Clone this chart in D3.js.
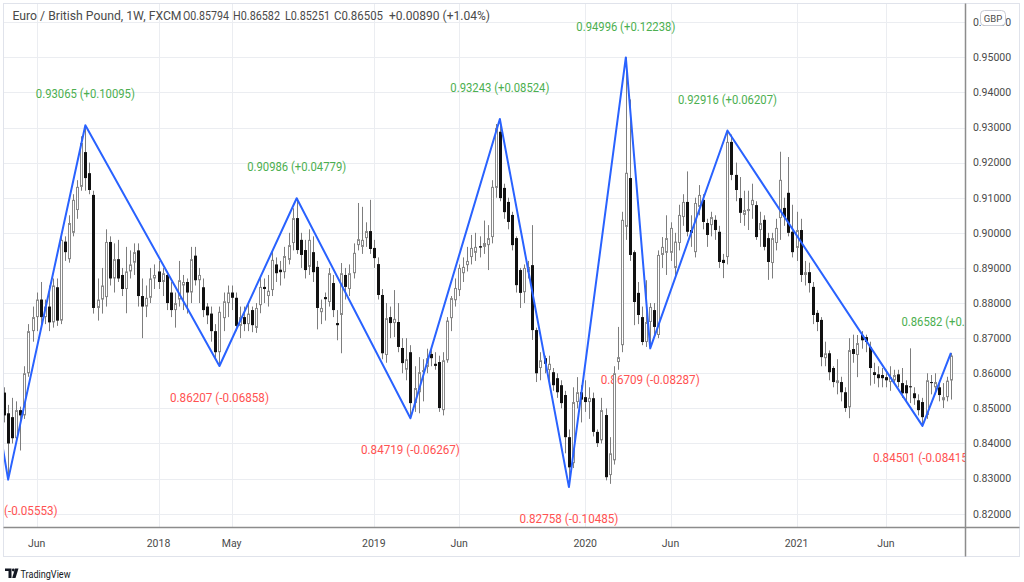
<!DOCTYPE html>
<html><head><meta charset="utf-8">
<script src="https://cdn.jsdelivr.net/npm/d3@7"></script>
<style>
html,body{margin:0;padding:0;background:#fff;}
svg{display:block;font-family:Roboto,"Noto Sans",sans-serif;}
</style></head><body>
<svg id="c" width="1024" height="582"></svg>
<script>
// ---- DATA (weekly EUR/GBP, FXCM) ----
const firstWeek = "2017-04-10";
const open = [
0.8545,0.8486,0.8475,0.8415,0.8495,0.8480,0.8600,0.8720,0.8760,0.8810,
0.8760,0.8790,0.8745,0.8845,0.8750,0.8975,0.8925,0.9000,0.9065,0.9131,
0.9230,0.9170,0.9108,0.8786,0.8810,0.8817,0.8974,0.8870,0.8925,0.8880,
0.8840,0.8890,0.8915,0.8950,0.8820,0.8790,0.8815,0.8870,0.8890,0.8860,
0.8880,0.8830,0.8780,0.8810,0.8850,0.8860,0.8830,0.8935,0.8865,0.8845,
0.8790,0.8770,0.8720,0.8660,0.8757,0.8800,0.8830,0.8815,0.8735,0.8760,
0.8740,0.8780,0.8729,0.8794,0.8846,0.8820,0.8837,0.8910,0.8895,0.8888,
0.8923,0.8971,0.9042,0.8980,0.8951,0.8903,0.8945,0.8903,0.8774,0.8817,
0.8803,0.8857,0.8743,0.8766,0.8880,0.8840,0.8885,0.8965,0.8960,0.8985,
0.9005,0.8957,0.8911,0.8823,0.8652,0.8760,0.8743,0.8746,0.8672,0.8610,
0.8660,0.8515,0.8546,0.8603,0.8618,0.8655,0.8627,0.8632,0.8495,0.8637,
0.8757,0.8808,0.8837,0.8885,0.8908,0.8931,0.8943,0.8962,0.8960,0.8965,
0.8988,0.9128,0.9288,0.9128,0.9088,0.9051,0.8985,0.8894,0.8831,0.8888,
0.8908,0.8723,0.8615,0.8643,0.8609,0.8603,0.8586,0.8566,0.8538,0.8418,
0.8344,0.8518,0.8546,0.8532,0.8518,0.8529,0.8433,0.8409,0.8481,0.8310,
0.8352,0.8632,0.8680,0.9017,0.9156,0.8945,0.8829,0.8760,0.8689,0.8746,
0.8780,0.8709,0.8937,0.8943,0.8943,0.8900,0.8971,0.9045,0.9088,0.9008,
0.8945,0.9074,0.9094,0.9028,0.9022,0.9037,0.9003,0.8923,0.8931,0.9259,
0.9165,0.9099,0.9051,0.9062,0.9079,0.9079,0.9008,0.9037,0.8985,0.8914,
0.8971,0.9042,0.9071,0.9114,0.9003,0.8957,0.9008,0.8880,0.8888,0.8846,
0.8772,0.8752,0.8643,0.8657,0.8615,0.8572,0.8575,0.8546,0.8503,0.8669,
0.8652,0.8709,0.8703,0.8675,0.8603,0.8597,0.8595,0.8589,0.8575,0.8580,
0.8597,0.8572,0.8566,0.8563,0.8543,0.8523,0.8518,0.8481,0.8575,0.8560,
0.8560,0.8523,0.8532,0.85794];
const high = [
0.8560,0.8510,0.8530,0.8520,0.8505,0.8620,0.8740,0.8790,0.8830,0.8860,
0.8810,0.8850,0.8870,0.8870,0.8990,0.8990,0.9050,0.9110,0.9150,0.9275,
0.93065,0.9200,0.9120,0.8870,0.8900,0.9010,0.8990,0.8970,0.8980,0.8900,
0.8960,0.8950,0.8970,0.8970,0.8870,0.8850,0.8900,0.8910,0.8920,0.8900,
0.8890,0.8860,0.8830,0.8920,0.8880,0.8870,0.8960,0.8960,0.8900,0.8870,
0.8800,0.8790,0.8740,0.8790,0.8830,0.8850,0.8850,0.8830,0.8790,0.8790,
0.8800,0.8790,0.8800,0.8874,0.8870,0.8880,0.8950,0.8930,0.8920,0.8960,
0.9000,0.9070,0.90986,0.9000,0.8980,0.9010,0.8990,0.8920,0.8810,0.8830,
0.8900,0.8880,0.8780,0.8914,0.8900,0.8910,0.8970,0.9085,0.9074,0.9030,
0.9094,0.8980,0.8930,0.8840,0.8800,0.8790,0.8837,0.8800,0.8700,0.8700,
0.8680,0.8620,0.8646,0.8640,0.8670,0.8670,0.8660,0.8650,0.8660,0.8760,
0.8820,0.8870,0.8910,0.8930,0.8960,0.8994,0.9000,0.8990,0.9035,0.9022,
0.9150,0.9310,0.93243,0.9140,0.9100,0.9060,0.8990,0.8900,0.8910,0.8920,
0.9022,0.8730,0.8660,0.8650,0.8650,0.8615,0.8600,0.8580,0.8550,0.8440,
0.8560,0.8589,0.8566,0.8580,0.8560,0.8545,0.8440,0.8530,0.8500,0.8418,
0.8620,0.8732,0.9060,0.94996,0.9380,0.8950,0.8860,0.8790,0.8865,0.8800,
0.8800,0.8950,0.8988,0.9050,0.9030,0.9000,0.9080,0.9110,0.9175,0.9050,
0.9100,0.9136,0.9110,0.9040,0.9060,0.9050,0.9020,0.8940,0.92916,0.9280,
0.9200,0.9159,0.9120,0.9120,0.9140,0.9090,0.9060,0.9050,0.9000,0.9000,
0.9040,0.9231,0.9100,0.9216,0.9080,0.9060,0.9040,0.8920,0.8915,0.8860,
0.8780,0.8760,0.8690,0.8665,0.8620,0.8640,0.8590,0.8560,0.8700,0.8710,
0.8709,0.8720,0.8710,0.8690,0.8630,0.8620,0.8615,0.8610,0.8620,0.8610,
0.8610,0.8615,0.8580,0.8671,0.8560,0.8540,0.8530,0.8600,0.8595,0.8600,
0.8580,0.8572,0.8590,0.86582];
const low = [
0.8460,0.8297,0.8400,0.8400,0.8380,0.8470,0.8590,0.8690,0.8720,0.8740,
0.8740,0.8720,0.8730,0.8735,0.8740,0.8920,0.8915,0.8990,0.9040,0.9120,
0.9120,0.9110,0.8770,0.8750,0.8770,0.8790,0.8850,0.8830,0.8860,0.8820,
0.8771,0.8870,0.8880,0.8790,0.8700,0.8760,0.8800,0.8840,0.8840,0.8820,
0.8780,0.8760,0.8730,0.8790,0.8780,0.8770,0.8800,0.8850,0.8800,0.8760,
0.8740,0.8690,0.8640,0.86207,0.8720,0.8760,0.8780,0.8720,0.8700,0.8720,
0.8720,0.8717,0.8715,0.8771,0.8800,0.8790,0.8820,0.8860,0.8850,0.8870,
0.8910,0.8950,0.8940,0.8900,0.8870,0.8880,0.8860,0.8725,0.8740,0.8750,
0.8790,0.8760,0.8694,0.8657,0.8810,0.8820,0.8870,0.8950,0.8940,0.8960,
0.8940,0.8900,0.8810,0.8640,0.8630,0.8700,0.8703,0.8660,0.8600,0.8580,
0.84719,0.8490,0.8486,0.8520,0.8600,0.8620,0.8610,0.8490,0.8480,0.8630,
0.8720,0.8790,0.8820,0.8860,0.8890,0.8910,0.8920,0.8930,0.8940,0.8894,
0.8970,0.9100,0.9090,0.9040,0.9010,0.8950,0.8830,0.8786,0.8800,0.8870,
0.8695,0.8575,0.8580,0.8600,0.8570,0.8550,0.8530,0.8500,0.8372,0.82758,
0.8330,0.8500,0.8460,0.8490,0.8470,0.8420,0.8390,0.8400,0.8295,0.8285,
0.8340,0.8610,0.8660,0.8980,0.8920,0.8737,0.8740,0.8680,0.8675,0.86709,
0.8710,0.8700,0.8900,0.8880,0.8920,0.8880,0.8950,0.9020,0.8990,0.8960,
0.8930,0.9050,0.9010,0.8960,0.8990,0.8980,0.8900,0.8871,0.8910,0.9150,
0.9090,0.9028,0.9020,0.9008,0.9040,0.8980,0.8960,0.8950,0.8866,0.8870,
0.8950,0.8980,0.9020,0.8990,0.8930,0.8920,0.8860,0.8850,0.8830,0.8740,
0.8720,0.8620,0.8620,0.8580,0.8560,0.8540,0.8520,0.8490,0.8472,0.8630,
0.8589,0.8670,0.8660,0.8565,0.8570,0.8560,0.8560,0.8560,0.8550,0.8570,
0.8560,0.8530,0.8520,0.8515,0.8510,0.8480,0.84501,0.8470,0.8540,0.8540,
0.8520,0.8501,0.8520,0.85251];
const close = [
0.8480,0.8400,0.8415,0.8495,0.8480,0.8600,0.8720,0.8760,0.8810,0.8760,
0.8790,0.8745,0.8850,0.8750,0.8980,0.8945,0.9028,0.9094,0.9131,0.9256,
0.9156,0.9122,0.8786,0.8810,0.8850,0.8974,0.8870,0.8925,0.8870,0.8840,
0.8890,0.8910,0.8945,0.8820,0.8790,0.8815,0.8870,0.8880,0.8860,0.8885,
0.8800,0.8780,0.8800,0.8865,0.8860,0.8830,0.8925,0.8865,0.8880,0.8780,
0.8765,0.8720,0.8660,0.8775,0.8805,0.8830,0.8815,0.8735,0.8760,0.8740,
0.8770,0.8737,0.8786,0.8846,0.8840,0.8835,0.8923,0.8885,0.8888,0.8934,
0.8965,0.9042,0.8951,0.8937,0.8894,0.8980,0.8888,0.8786,0.8786,0.8811,
0.8885,0.8780,0.8737,0.8885,0.8846,0.8885,0.8943,0.8982,0.8980,0.9005,
0.8954,0.8928,0.8823,0.8657,0.8757,0.8743,0.8755,0.8675,0.8629,0.8640,
0.8515,0.8558,0.8603,0.8609,0.8643,0.8643,0.8621,0.8501,0.8637,0.8750,
0.8814,0.8843,0.8900,0.8903,0.8920,0.8957,0.8960,0.8958,0.8971,0.8985,
0.9131,0.9299,0.9099,0.9059,0.9031,0.8965,0.8851,0.8829,0.8900,0.8903,
0.8723,0.8600,0.8637,0.8627,0.8627,0.8566,0.8546,0.8515,0.8418,0.8332,
0.8518,0.8546,0.8525,0.8518,0.8530,0.8433,0.8401,0.8495,0.8304,0.8372,
0.8600,0.8646,0.9037,0.9171,0.8937,0.8803,0.8766,0.8689,0.8746,0.8789,
0.8732,0.8937,0.8960,0.8985,0.9014,0.8975,0.9051,0.9088,0.9003,0.9000,
0.9085,0.9108,0.9031,0.8994,0.9045,0.9008,0.8917,0.8914,0.9259,0.9165,
0.9122,0.9057,0.9065,0.9068,0.9094,0.8988,0.9028,0.8960,0.8917,0.8985,
0.9014,0.9151,0.9045,0.9000,0.8945,0.9008,0.8880,0.8888,0.8857,0.8766,
0.8746,0.8646,0.8657,0.8603,0.8575,0.8580,0.8546,0.8501,0.8666,0.8655,
0.8686,0.8694,0.8689,0.8615,0.8595,0.8586,0.8586,0.8580,0.8589,0.8595,
0.8575,0.8543,0.8543,0.8560,0.8529,0.8495,0.8475,0.8580,0.8572,0.8575,
0.8538,0.8532,0.8579,0.86505];

// ZigZag pivots
const pivotDates = ["2017-02-20","2017-04-17","2017-08-28","2018-04-16","2018-08-27","2019-03-11","2019-08-12","2019-12-09","2020-03-16","2020-04-27","2020-09-07","2021-08-09","2021-09-27"];
const pivotValues = [0.88523,0.82970,0.93065,0.86207,0.90986,0.84719,0.93243,0.82758,0.94996,0.86709,0.92916,0.84501,0.86582];

// axes
const priceTicks = [0.82,0.83,0.84,0.85,0.86,0.87,0.88,0.89,0.90,0.91,0.92,0.93,0.94,0.95,0.96];
const timeTickDates = ["2017-06-05","2018-01-01","2018-05-07","2019-01-07","2019-06-03","2020-01-06","2020-06-01","2021-01-04","2021-06-07"];
const timeTickLabels = ["Jun","2018","May","2019","Jun","2020","Jun","2021","Jun"];

const titleParts = ["Euro / British Pound, 1W, FXCM","O0.85794","H0.86582","L0.85251","C0.86505","+0.00890 (+1.04%)"];

// ---- DRAW ----
const svg = d3.select("#c");
const P = {l:4, t:4, r:965, b:527};
const parse = s => new Date(s + "T00:00:00Z");
const start = parse(firstWeek);
const dates = open.map((_, i) => d3.utcDay.offset(start, 7 * i));

const x = d3.scaleUtc().domain([parse("2018-01-01"), parse("2021-01-04")]).range([158.5, 796.5]);
const y = d3.scaleLinear().domain([0.82, 0.95]).range([513.7, 57.3]);

svg.append("rect").attr("x",3.5).attr("y",3.5).attr("width",1016).attr("height",553)
  .attr("fill","#fff").attr("stroke","#e0e3eb");

svg.append("defs").append("clipPath").attr("id","plotclip")
  .append("rect").attr("x",P.l).attr("y",P.t).attr("width",P.r-P.l).attr("height",P.b-P.t);

// grid
const grid = svg.append("g").attr("stroke","#ebedf1").attr("stroke-width",1);
priceTicks.forEach(p => {
  const yy = Math.round(y(p)) + 0.5;
  if (yy > P.t && yy < P.b) grid.append("line").attr("x1",P.l).attr("x2",P.r).attr("y1",yy).attr("y2",yy);
});
timeTickDates.forEach(d => {
  const xx = Math.round(x(parse(d))) + 0.5;
  grid.append("line").attr("x1",xx).attr("x2",xx).attr("y1",P.t).attr("y2",P.b);
});

const plot = svg.append("g").attr("clip-path","url(#plotclip)");

// pivot labels (under candles)
const piv = pivotDates.map((d,i) => ({date: parse(d), v: pivotValues[i]}));
const labG = plot.append("g").attr("font-size","12px").attr("text-anchor","middle");
piv.forEach((p,i) => {
  if (i === 0) return;
  const prev = piv[i-1].v;
  const diff = Math.round((p.v - prev) * 1e5) / 1e5;
  const up = diff > 0;
  const txt = p.v.toFixed(5) + " (" + (up ? "+" : "-") + Math.abs(diff).toFixed(5) + ")";
  const cy = y(p.v) + (up ? -31 : 31.5);
  labG.append("text").attr("x", x(p.date)).attr("y", cy + 4.2)
    .attr("fill", up ? "#4caf50" : "#ff5252")
    .attr("textLength", 99).attr("lengthAdjust","spacingAndGlyphs")
    .text(txt);
});

// candles
const cg = plot.append("g");
dates.forEach((d,i) => {
  const px = Math.round(x(d));
  const o = open[i], h = high[i], l = low[i], c = close[i];
  cg.append("line").attr("x1",px+0.5).attr("x2",px+0.5)
    .attr("y1",y(h)).attr("y2",y(l)).attr("stroke","#7d7d7d").attr("stroke-width",1);
  if (c >= o) {
    const top = y(c), bot = y(o);
    cg.append("rect").attr("x",px-0.5).attr("y",top+0.5).attr("width",2)
      .attr("height",Math.max(0.5, bot-top-1)).attr("fill","#fff").attr("stroke","#8a8a8a").attr("stroke-width",1);
  } else {
    const top = y(o), bot = y(c);
    cg.append("rect").attr("x",px-1).attr("y",top).attr("width",3)
      .attr("height",Math.max(1, bot-top)).attr("fill","#111");
  }
});

// zigzag
plot.append("path").datum(piv)
  .attr("d", d3.line().x(p => x(p.date)).y(p => y(p.v)))
  .attr("fill","none").attr("stroke","#2962ff").attr("stroke-width",2).attr("stroke-linejoin","round");

// axes lines
svg.append("line").attr("x1",965.5).attr("x2",965.5).attr("y1",3.5).attr("y2",556.5).attr("stroke","#8c8c8c").attr("stroke-width",1.5);
svg.append("line").attr("x1",3.5).attr("x2",1019.5).attr("y1",527.5).attr("y2",527.5).attr("stroke","#8c8c8c").attr("stroke-width",1.5);

// price labels
const pl = svg.append("g").attr("font-size","10.5px").attr("fill","#4a4a4a").attr("text-anchor","middle");
priceTicks.forEach(p => {
  pl.append("text").attr("x",992).attr("y",y(p)+3.8).text(p.toFixed(5));
});
// currency badge
svg.append("rect").attr("x",980.5).attr("y",10.5).attr("width",25).attr("height",15).attr("rx",4)
  .attr("fill","#fff").attr("stroke","#c8cbd3");
svg.append("text").attr("x",993).attr("y",21.5).attr("font-size","9.5px").attr("fill","#4a4a4a")
  .attr("text-anchor","middle").text("GBP");

// time labels
const tl = svg.append("g").attr("font-size","10.5px").attr("fill","#4a4a4a").attr("text-anchor","middle");
timeTickDates.forEach((d,i) => {
  tl.append("text").attr("x",x(parse(d))).attr("y",547).text(timeTickLabels[i]);
});

// title
const tx = [12.5,183,233,285,334,389];
const tw = [169,46,47,45,49,101];
const tg = svg.append("g").attr("font-size","12px").attr("fill","#4a4a4a");
titleParts.forEach((t,i) => {
  tg.append("text").attr("x",tx[i]).attr("y",19.5).attr("textLength",tw[i])
    .attr("lengthAdjust","spacingAndGlyphs").text(t);
});

// TradingView logo
const lg = svg.append("g").attr("fill","#131722");
lg.append("path").attr("d","M5,568.5 H11.5 V578 H8.5 V571 H5 Z");
lg.append("circle").attr("cx",13.3).attr("cy",570).attr("r",1.4);
lg.append("path").attr("d","M15,568.5 H18.5 L15.5,578 H12.2 Z");
svg.append("text").attr("x",20.5).attr("y",577.5).attr("font-size","11.5px").attr("fill","#131722")
  .attr("textLength",50).attr("lengthAdjust","spacingAndGlyphs").text("TradingView");
</script>
</body></html>
